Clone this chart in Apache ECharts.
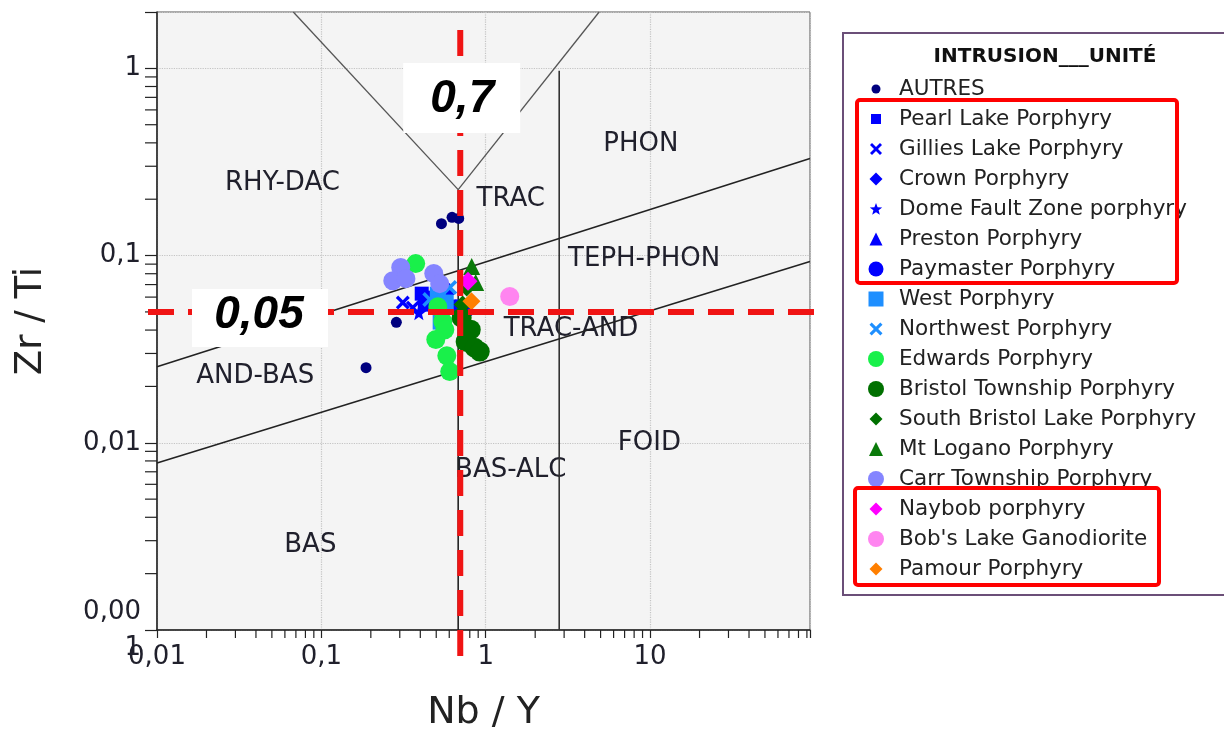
<!DOCTYPE html>
<html>
<head>
<meta charset="utf-8">
<script src="https://cdn.jsdelivr.net/npm/echarts@6/dist/echarts.min.js"></script>
<style>
  html, body { margin: 0; padding: 0; background: #fff; }
  #chart { width: 1224px; height: 733px; }
</style>
</head>
<body>
<div id="chart"></div>
<script>
// axes (log scales)
var xTickValues = [0.01, 0.1, 1, 10];
var xTickLabels = ["0,01", "0,1", "1", "10"];
var yTickValues = [0.001, 0.01, 0.1, 1];
var yTickLabels = ["0,00\n1", "0,01", "0,1", "1"];
var xMinorTicks = [0.02, 0.03, 0.04, 0.05, 0.06, 0.07, 0.08, 0.09,
  0.2, 0.3, 0.4, 0.5, 0.6, 0.7, 0.8, 0.9, 2, 3, 4, 5, 6, 7, 8, 9,
  20, 30, 40, 50, 60, 70, 80, 90];
var yMinorTicks = [0.002, 0.003, 0.004, 0.005, 0.006, 0.007, 0.008, 0.009,
  0.02, 0.03, 0.04, 0.05, 0.06, 0.07, 0.08, 0.09,
  0.2, 0.3, 0.4, 0.5, 0.6, 0.7, 0.8, 0.9];

// field boundaries [Nb/Y, Zr/Ti]
var lineVLeft = [[0.0675, 2], [0.68, 0.225]];
var lineVRight = [[0.68, 0.225], [4.9, 2]];
var lineSubAlk = [[0.68, 0.225], [0.68, 0.001]];
var lineAlk = [[2.8, 0.97], [2.8, 0.001]];
var lineUpper = [[0.01, 0.0255], [94, 0.33]];
var lineLower = [[0.01, 0.0078], [94, 0.093]];

var fieldNames = ["RHY-DAC", "TRAC", "PHON", "TEPH-PHON", "TRAC-AND", "AND-BAS", "FOID", "BAS-ALC", "BAS"];
var fieldPos = [[0.058, 0.243], [1.42, 0.2], [8.8, 0.393], [9.2, 0.0953], [3.3, 0.0402],
  [0.0396, 0.0228], [9.9, 0.01], [1.42, 0.00717], [0.0857, 0.00285]];

// cut-off lines
var cutNbY = 0.7;
var cutZrTi = 0.05;

// samples [Nb/Y, Zr/Ti]
var autres = [[0.538, 0.148], [0.624, 0.160], [0.685, 0.158], [0.286, 0.044], [0.187, 0.0252], [0.96, 0.0314]];
var pearlLake = [[0.408, 0.0626], [0.426, 0.0547], [0.476, 0.0596]];
var gilliesLake = [[0.313, 0.0561], [0.36, 0.0527]];
var crown = [[0.778, 0.0502]];
var domeFault = [[0.392, 0.0495]];
var preston = [[0.58, 0.0675]];
var paymaster = [[0.556, 0.0658], [0.658, 0.0527]];
var west = [[0.511, 0.0618], [0.571, 0.0561], [0.532, 0.0444]];
var northwest = [[0.604, 0.0675], [0.457, 0.0582]];
var edwards = [[0.375, 0.0906], [0.511, 0.0533], [0.548, 0.0444], [0.564, 0.0402], [0.497, 0.0356], [0.58, 0.0292], [0.604, 0.024]];
var bristol = [[0.714, 0.0466], [0.811, 0.0402], [0.755, 0.0347], [0.857, 0.0322], [0.92, 0.0307]];
var southBristol = [[0.724, 0.0547], [0.766, 0.0675]];
var mtLogano = [[0.822, 0.0873], [0.869, 0.0718]];
var carr = [[0.304, 0.0863], [0.272, 0.0734], [0.327, 0.0753], [0.483, 0.0802], [0.525, 0.0708]];
var naybob = [[0.78, 0.0729]];
var bobsLake = [[1.4, 0.0605]];
var pamour = [[0.819, 0.057]];

var FONT = "DejaVu Sans";

// symbol shapes
var xPath = "path://M2 0L6 4L10 0L12 2L8 6L12 10L10 12L6 8L2 12L0 10L4 6L0 2Z";
function starPts(cx, cy, R) {
  var s = "";
  for (var i = 0; i < 10; i++) {
    var r = i % 2 ? R * 0.42 : R;
    var a = -Math.PI / 2 + i * Math.PI / 5;
    s += (i ? "L" : "M") + (cx + r * Math.cos(a)).toFixed(2) + " " + (cy + r * Math.sin(a)).toFixed(2);
  }
  return s + "Z";
}
var starPath = "path://" + starPts(10, 10, 10);

// legend icons inside an 18x18 box (corner moves keep the box size)
var PAD = "M0 0M18 18";
function icCircle(r) { return "path://" + PAD + "M" + (9 - r) + " 9A" + r + " " + r + " 0 1 0 " + (9 + r) + " 9A" + r + " " + r + " 0 1 0 " + (9 - r) + " 9Z"; }
function icRect(s) { var a = 9 - s / 2, b = 9 + s / 2; return "path://" + PAD + "M" + a + " " + a + "H" + b + "V" + b + "H" + a + "Z"; }
function icDiamond(s) { var h = s / 2; return "path://" + PAD + "M9 " + (9 - h) + "L" + (9 + h) + " 9L9 " + (9 + h) + "L" + (9 - h) + " 9Z"; }
function icTriangle(s) { var h = s / 2; return "path://" + PAD + "M9 " + (9 - h) + "L" + (9 + h) + " " + (9 + h) + "L" + (9 - h) + " " + (9 + h) + "Z"; }
function icX(s) {
  var k = s / 12, o = 9 - s / 2;
  var p = [[2,0],[6,4],[10,0],[12,2],[8,6],[12,10],[10,12],[6,8],[2,12],[0,10],[4,6],[0,2]];
  return "path://" + PAD + p.map(function (q, i) { return (i ? "L" : "M") + (o + q[0] * k).toFixed(2) + " " + (o + q[1] * k).toFixed(2); }).join("") + "Z";
}
function icStar(s) { return "path://" + PAD + starPts(9, 9.5, s / 2); }

var groups = [
  { name: "AUTRES", data: autres, symbol: "circle", size: 11, color: "#00007f", icon: icCircle(4.5) },
  { name: "Pearl Lake Porphyry", data: pearlLake, symbol: "rect", size: 14, color: "#0000ff", icon: icRect(10) },
  { name: "Gillies Lake Porphyry", data: gilliesLake, symbol: xPath, size: 14, color: "#0000ff", icon: icX(12) },
  { name: "Crown Porphyry", data: crown, symbol: "diamond", size: 16, color: "#0000ff", icon: icDiamond(13) },
  { name: "Dome Fault Zone porphyry", data: domeFault, symbol: starPath, size: 15, color: "#0000ff", icon: icStar(13) },
  { name: "Preston Porphyry", data: preston, symbol: "triangle", size: 15, color: "#0000ff", icon: icTriangle(13) },
  { name: "Paymaster Porphyry", data: paymaster, symbol: "circle", size: 17, color: "#0000ff", icon: icCircle(7.5) },
  { name: "West Porphyry", data: west, symbol: "rect", size: 16, color: "#1e8fff", icon: icRect(15) },
  { name: "Northwest Porphyry", data: northwest, symbol: xPath, size: 15, color: "#1e8fff", icon: icX(13) },
  { name: "Edwards Porphyry", data: edwards, symbol: "circle", size: 19, color: "#19f04a", icon: icCircle(8) },
  { name: "Bristol Township Porphyry", data: bristol, symbol: "circle", size: 20, color: "#007000", icon: icCircle(8) },
  { name: "South Bristol Lake Porphyry", data: southBristol, symbol: "diamond", size: 18, color: "#007000", icon: icDiamond(13) },
  { name: "Mt Logano Porphyry", data: mtLogano, symbol: "triangle", size: 17, color: "#0a7a0a", icon: icTriangle(14) },
  { name: "Carr Township Porphyry", data: carr, symbol: "circle", size: 19, color: "#8585ff", icon: icCircle(8) },
  { name: "Naybob porphyry", data: naybob, symbol: "diamond", size: 19, color: "#ff00ff", icon: icDiamond(13) },
  { name: "Bob's Lake Ganodiorite", data: bobsLake, symbol: "circle", size: 19, color: "#ff85f0", icon: icCircle(8) },
  { name: "Pamour Porphyry", data: pamour, symbol: "diamond", size: 18, color: "#ff7f00", icon: icDiamond(13) }
];

function tickLabel(values, labels) {
  return function (v) {
    for (var i = 0; i < values.length; i++) {
      if (Math.abs(Math.log10(v) - Math.log10(values[i])) < 1e-6) return labels[i];
    }
    return "";
  };
}

function boundary(data, color, width) {
  return {
    type: "line", data: data, symbol: "none", silent: true, z: 3,
    lineStyle: { color: color, width: width }
  };
}

function minorTicks(values, horizontal) {
  return {
    type: "custom", silent: true, z: 4,
    data: values.map(function (v) { return horizontal ? [v, 0.001] : [0.01, v]; }),
    renderItem: function (params, api) {
      var p = api.coord([api.value(0), api.value(1)]);
      return {
        type: "line",
        shape: horizontal
          ? { x1: p[0], y1: p[1], x2: p[0], y2: p[1] + 8 }
          : { x1: p[0] - 12, y1: p[1], x2: p[0], y2: p[1] },
        style: { stroke: "#222", lineWidth: 1.2 }
      };
    }
  };
}

var series = [
  boundary(lineVLeft, "#555", 1.3),
  boundary(lineVRight, "#555", 1.3),
  boundary(lineSubAlk, "#222", 1.6),
  boundary(lineAlk, "#333", 1.6),
  boundary(lineUpper, "#222", 1.6),
  boundary(lineLower, "#222", 1.6),
  {
    type: "scatter", silent: true, z: 2, symbolSize: 1,
    itemStyle: { color: "rgba(0,0,0,0)", opacity: 1 },
    data: fieldNames.map(function (n, i) { return { name: n, value: fieldPos[i] }; }),
    label: {
      show: true, position: "inside", formatter: "{b}", opacity: 1,
      fontFamily: FONT, fontSize: 26, color: "#20202c"
    }
  },
  minorTicks(xMinorTicks, true),
  minorTicks(yMinorTicks, false)
];

groups.forEach(function (g) {
  series.push({
    type: "scatter", name: g.name, data: g.data, z: 5,
    symbol: g.symbol, symbolSize: g.size,
    itemStyle: { color: g.color, opacity: 1 }
  });
});

var chart = echarts.init(document.getElementById("chart"));

chart.setOption({
  animation: false,
  grid: {
    left: 157, top: 12, right: 414, bottom: 103,
    outerBoundsMode: "none", containLabel: false,
    show: true, backgroundColor: "#f4f4f4", borderColor: "#555", borderWidth: 1
  },
  xAxis: {
    type: "log", logBase: 10, min: 0.01, max: 94,
    name: "Nb / Y", nameLocation: "middle", nameGap: 64,
    nameTextStyle: { fontFamily: FONT, fontSize: 38, color: "#222" },
    axisLine: { lineStyle: { color: "#222", width: 1.5 } },
    axisTick: { length: 8, lineStyle: { color: "#222", width: 1.2 } },
    axisLabel: {
      formatter: tickLabel(xTickValues, xTickLabels), showMinLabel: true,
      margin: 14, fontFamily: FONT, fontSize: 26, color: "#20202c"
    },
    splitLine: { show: true, lineStyle: { type: "dotted", color: "#c4c4c4", width: 1.2 } }
  },
  yAxis: {
    type: "log", logBase: 10, min: 0.001, max: 2,
    name: "Zr / Ti", nameLocation: "middle", nameGap: 107, nameRotate: 90,
    nameTextStyle: { fontFamily: FONT, fontSize: 37, color: "#222" },
    axisLine: { lineStyle: { color: "#222", width: 1.5 } },
    axisTick: { length: 12, lineStyle: { color: "#222", width: 1.2 } },
    axisLabel: {
      formatter: tickLabel(yTickValues, yTickLabels), showMinLabel: true,
      margin: 16, fontFamily: FONT, fontSize: 26, lineHeight: 36, color: "#20202c"
    },
    splitLine: { show: true, lineStyle: { type: "dotted", color: "#c4c4c4", width: 1.2 } }
  },
  legend: {
    orient: "vertical", left: 862, top: 73,
    itemWidth: 18, itemHeight: 18, itemGap: 8,
    selectedMode: false,
    textStyle: { fontFamily: FONT, fontSize: 21.5, lineHeight: 14, color: "#222", padding: [0, 0, 0, 9] },
    data: groups.map(function (g) { return { name: g.name, icon: g.icon, itemStyle: { color: g.color } }; })
  },
  series: series
});

// red cut-off lines and their labels, placed through the axes
var px = chart.convertToPixel({ gridIndex: 0 }, [cutNbY, cutZrTi]);
var red = { stroke: "#f01414", lineWidth: 6, lineDash: [26, 14] };
chart.setOption({
  graphic: [
    { type: "rect", z: 10, shape: { x: 843, y: 33, width: 420, height: 562 },
      style: { fill: "none", stroke: "#6b4f78", lineWidth: 2 } },
    { type: "text", z: 10, x: 1045, y: 57,
      style: { text: "INTRUSION___UNITÉ", font: "bold 20px DejaVu Sans", fill: "#111", align: "center", verticalAlign: "middle" } },
    { type: "rect", z: 10, shape: { x: 857, y: 100, width: 320, height: 183, r: 3 },
      style: { fill: "none", stroke: "#ff0000", lineWidth: 4 } },
    { type: "rect", z: 10, shape: { x: 855, y: 488, width: 304, height: 97, r: 3 },
      style: { fill: "none", stroke: "#ff0000", lineWidth: 4 } },
    { type: "line", z: 20, shape: { x1: px[0], y1: 30, x2: px[0], y2: 662 }, style: red },
    { type: "line", z: 20, shape: { x1: 148, y1: px[1], x2: 826, y2: px[1] }, style: red },
    { type: "rect", z: 21, shape: { x: px[0] - 57, y: 63, width: 117, height: 70 }, style: { fill: "#fff" } },
    { type: "text", z: 22, x: px[0] + 2, y: 99,
      style: { text: "0,7", font: "italic bold 46px Liberation Sans", fill: "#000", align: "center", verticalAlign: "middle" } },
    { type: "rect", z: 21, shape: { x: 192, y: px[1] - 23, width: 136, height: 58 }, style: { fill: "#fff" } },
    { type: "text", z: 22, x: 259, y: px[1] + 3,
      style: { text: "0,05", font: "italic bold 46px Liberation Sans", fill: "#000", align: "center", verticalAlign: "middle" } }
  ]
});
</script>
</body>
</html>
